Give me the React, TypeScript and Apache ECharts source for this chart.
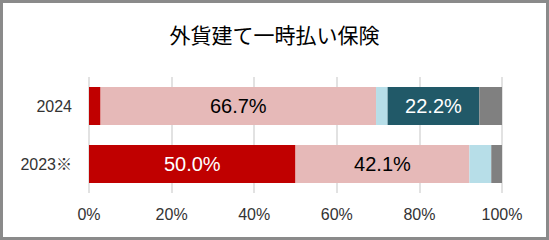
import React, { useEffect, useRef } from "react";
import * as echarts from "echarts";

const title = "外貨建て一時払い保険";
const categories = ["2024", "2023※"];
const seriesNames = ["区分A", "区分B", "区分C", "区分D", "区分E"];
const seriesColors = ["#C00000", "#E6B9B8", "#B7DEE8", "#215968", "#808080"];
const labelColors = ["#FFFFFF", "#000000", "#000000", "#FFFFFF", "#FFFFFF"];
const valuesA = [2.8, 50.0];
const valuesB = [66.7, 42.1];
const valuesC = [2.8, 5.3];
const valuesD = [22.2, 0];
const valuesE = [5.5, 2.6];
const xTicks = [0, 20, 40, 60, 80, 100];

const allValues = [valuesA, valuesB, valuesC, valuesD, valuesE];

export default function App() {
  const ref = useRef<HTMLDivElement>(null);
  useEffect(() => {
    if (!ref.current) return;
    const chart = echarts.init(ref.current, null, { renderer: "svg" });
    const font = '"Liberation Sans", Arial, "Noto Sans CJK JP", sans-serif';
    chart.setOption({
      animation: false,
      backgroundColor: "#FFFFFF",
      title: {
        text: title,
        left: "center",
        top: 23,
        padding: 0,
        textStyle: {
          fontFamily: '"Noto Sans CJK JP", sans-serif',
          fontSize: 21,
          fontWeight: "normal",
          color: "#000000",
        },
      },
      graphic: [
        {
          type: "rect",
          shape: { x: 1.5, y: 1.5, width: 546, height: 237 },
          style: { fill: "none", stroke: "#8A8A8A", lineWidth: 3 },
          silent: true,
        },
      ],
      grid: {
        left: 89,
        right: 47,
        top: 77,
        bottom: 47,
        containLabel: false,
        outerBoundsMode: "none",
      },
      xAxis: {
        type: "value",
        min: xTicks[0],
        max: xTicks[xTicks.length - 1],
        interval: 20,
        axisLine: { show: false },
        axisTick: { show: false },
        splitLine: { show: true, lineStyle: { color: "#D9D9D9", width: 1.5 } },
        axisLabel: {
          formatter: "{value}%",
          fontSize: 16,
          fontFamily: font,
          color: "#333333",
          margin: 13,
        },
      },
      yAxis: {
        type: "category",
        data: categories,
        inverse: true,
        axisLine: { show: false },
        axisTick: { show: false },
        splitLine: { show: false },
        axisLabel: {
          fontSize: 16,
          fontFamily: font,
          color: "#333333",
          margin: 17,
        },
      },
      series: allValues.map((vals, i) => ({
        name: seriesNames[i],
        type: "bar",
        stack: "total",
        barWidth: 38,
        data: vals,
        itemStyle: { color: seriesColors[i] },
        label: {
          show: true,
          position: "inside",
          fontSize: 20,
          fontFamily: font,
          color: labelColors[i],
          formatter: (p: any) => (p.value >= 10 ? p.value.toFixed(1) + "%" : ""),
        },
      })),
    });
    return () => chart.dispose();
  }, []);
  return (
    <div
      ref={ref}
      style={{ position: "fixed", left: 0, top: 0, width: 549, height: 240 }}
    />
  );
}
